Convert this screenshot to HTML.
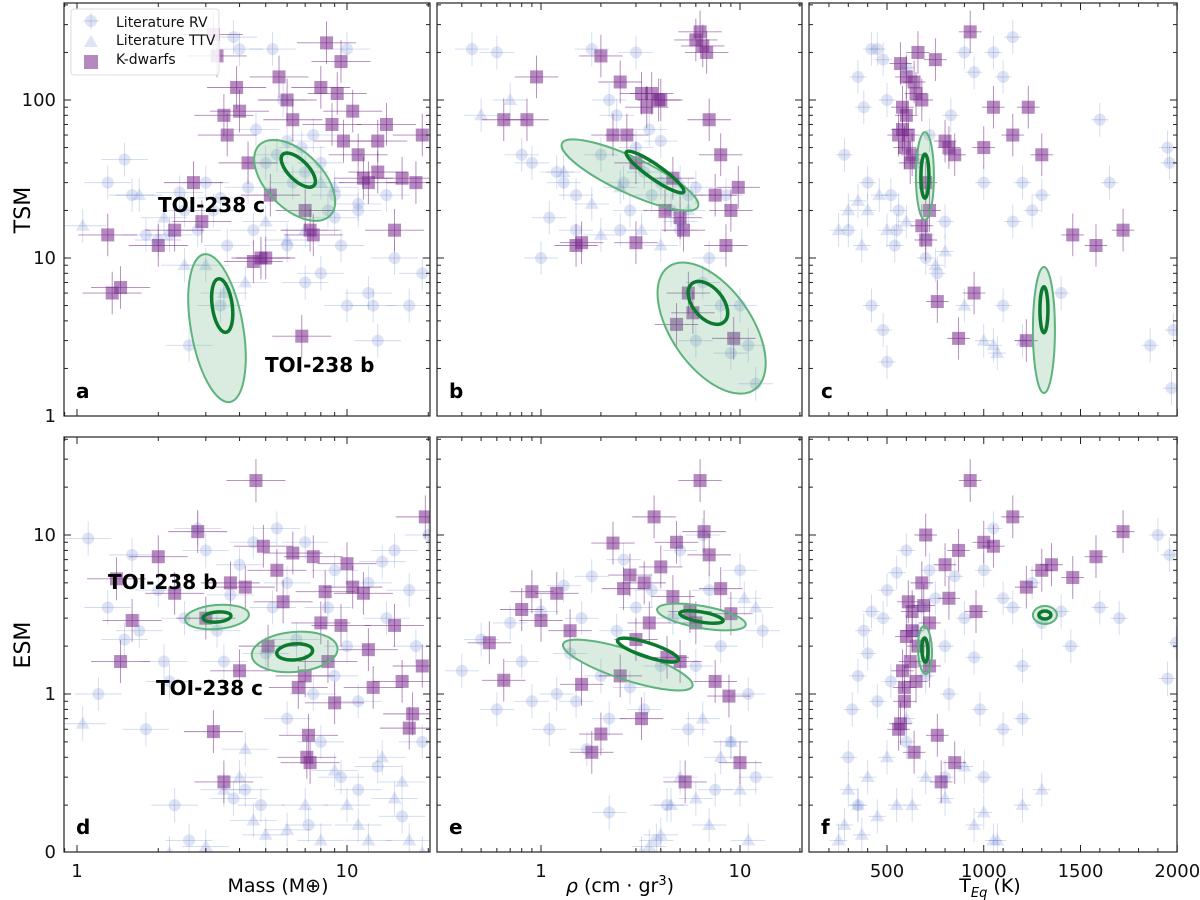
<!DOCTYPE html>
<html><head><meta charset="utf-8"><style>
body{margin:0;background:#fff;font-family:"Liberation Sans","DejaVu Sans",sans-serif}
svg{display:block}
text{font-family:"DejaVu Sans","Liberation Sans",sans-serif}
</style></head><body>
<svg id="fig" width="1200" height="900" viewBox="0 0 1200 900" xmlns="http://www.w3.org/2000/svg"></svg>
<script>
// ---- data (x, y pairs per panel/series) ----
const aRV=[[1.3,30],[1.5,42],[1.6,25],[1.8,14],[2.0,13],[2.2,14],[2.4,26],[2.6,2.8],[2.8,15],[3.0,30],[3.2,20],[3.4,24],[3.6,12],[3.8,250],[4.0,210],[4.3,28],[4.6,65],[5.0,40],[5.3,210],[5.5,45],[5.8,100],[6.0,55],[6.3,30],[6.8,50],[7.0,35],[7.5,60],[8.0,40],[8.5,20],[9,25],[9.5,12],[10,5],[11,20],[12,6],[12.5,5],[13,3],[14,25],[15,10],[17,5],[19,8],[3.4,5],[4.5,15],[6,12],[7,7],[2.5,20],[10,210],[11,22],[9,18],[8,8]];
const aTTV=[[1.05,16],[1.7,25],[2.5,9],[3.0,9],[4.2,7],[4.8,10],[5,17],[6,13],[7,15],[3.5,6],[9,28],[2.1,18],[8,30]];
const aK=[[1.3,14],[1.35,6],[1.45,6.5],[2.0,12],[2.3,15],[2.7,30],[2.9,17],[3.2,260],[3.3,190],[3.5,80],[3.6,60],[3.9,120],[4.0,85],[4.3,40],[4.5,9.5],[4.8,10],[5.0,10],[5.2,25],[5.6,140],[6.0,100],[6.3,75],[6.8,3.2],[7.0,20],[7.3,15],[7.5,14],[8.0,120],[8.4,230],[8.8,70],[9.2,110],[9.5,175],[9.7,55],[10.5,85],[11.0,45],[11.5,32],[12,30],[13,35],[14,70],[15,15],[16,32],[18,30],[19,60],[13,55]];
const bRV=[[0.45,210],[0.6,200],[0.8,45],[0.9,40],[1.0,10],[1.1,18],[1.2,35],[1.3,30],[1.5,25],[1.8,210],[2.0,45],[2.2,100],[2.4,80],[2.6,30],[2.8,20],[3,50],[3.3,35],[3.6,25],[4,30],[4.5,20],[5,15],[5.5,25],[6,28],[6.5,7],[7,10],[8,5],[9,2.5],[10,5],[11,2.8],[12,1.6],[2.5,15],[3.5,65],[4,55],[6,3],[8.5,25],[1.5,15],[3,200],[5,17]];
const bTTV=[[0.5,80],[0.7,100],[1.3,35],[1.8,22],[2.5,28],[3.2,15],[4,12],[5,30],[5.5,20],[2,14]];
const bK=[[0.65,75],[0.85,75],[0.95,140],[1.5,12],[1.6,12.5],[2.0,190],[2.3,60],[2.5,130],[2.7,60],[3.0,40],[3.2,110],[3.4,90],[3.6,110],[3.9,100],[4.2,20],[4.6,32],[5.0,18],[5.2,15],[5.5,6],[5.8,4.5],[6.0,240],[6.3,270],[6.5,220],[7.0,75],[7.5,25],[8.0,45],[8.5,12],[9.0,20],[9.3,3.1],[9.8,28],[6.8,200],[4.8,3.8],[3.0,12.5],[4.0,100]];
const cRV=[[280,45],[300,15],[350,140],[380,90],[400,30],[420,210],[450,210],[480,180],[500,100],[520,25],[540,12],[560,20],[600,160],[650,40],[700,10],[720,60],[760,8],[800,17],[830,80],[900,200],[950,150],[1000,30],[1050,200],[1100,5],[1150,17],[1200,30],[1250,20],[1300,25],[1400,6],[1600,75],[1650,30],[1950,50],[1960,40],[1970,1.5],[1980,3.5],[1860,2.8],[420,5],[480,3.5],[500,2.2],[550,15],[1100,140],[1150,250]];
const cTTV=[[250,15],[300,20],[350,23],[370,12],[400,20],[460,25],[500,15],[600,17],[700,14],[750,9],[800,11],[1000,3],[1050,2.8],[1070,2.5],[1200,3],[900,5]];
const cK=[[560,60],[570,170],[580,90],[590,50],[600,140],[610,60],[630,45],[650,110],[660,200],[680,100],[700,30],[720,20],[750,180],[760,5.3],[800,55],[820,50],[850,45],[870,3.1],[930,270],[950,6],[1000,50],[1050,90],[1150,60],[1220,3],[1230,90],[1300,45],[1460,14],[1580,12],[1720,15],[600,80],[640,130],[580,65],[700,13],[680,16],[620,40]];
const dRV=[[1.1,9.5],[1.2,1.0],[1.3,3.5],[1.5,2.2],[1.7,2.5],[1.8,0.6],[2.0,4.5],[2.2,1.2],[2.3,0.2],[2.5,3],[2.8,11],[3.0,8],[3.3,2.5],[3.5,1.6],[3.8,0.22],[4.0,6.5],[4.2,0.25],[4.5,9],[5.0,1.8],[5.3,3.5],[5.5,11],[6,5],[6.5,2.2],[7,9],[7.5,1],[8,0.5],[8.5,3.5],[9,6],[9.5,0.3],[10,2],[11,0.25],[12,5],[13,0.35],[14,3],[15,8],[16,0.17],[17,4.5],[18,2],[19,0.5],[20,10],[1.6,7.5],[2.6,0.12],[3.7,4.2],[4.8,0.2],[6,0.7],[7.2,0.15],[9,1.3],[11,0.9],[13.5,6.8],[2.1,1.6]];
const dTTV=[[1.05,0.65],[2.2,0.1],[3.5,0.25],[4,0.3],[4.5,0.16],[5,0.13],[6,0.14],[7,0.2],[8,0.12],[9,0.33],[10,0.2],[11,0.15],[12,0.12],[13.5,0.4],[15,0.22],[16,0.28],[17,0.12],[4.2,0.45],[19,0.1],[3,0.11]];
const dK=[[1.4,5.3],[1.45,1.6],[1.6,2.9],[2.0,7.3],[2.3,4.3],[2.8,10.5],[3.2,0.58],[3.0,3],[3.5,0.28],[3.7,5],[4.0,1.4],[4.2,4.7],[4.6,22],[4.9,8.5],[5.1,2],[5.5,6],[5.8,3.8],[6.3,7.7],[6.6,1.1],[7.0,1.3],[7.1,0.4],[7.2,0.55],[7.3,0.37],[7.5,7.3],[8.0,2.8],[8.3,4.4],[8.5,1.6],[9,0.88],[9.5,2.7],[10,6.6],[10.5,4.7],[11.5,4.3],[12,1.9],[12.5,1.1],[15,2.7],[16,1.2],[17,0.61],[17.5,0.75],[19,1.5],[19.5,13]];
const eRV=[[0.4,1.4],[0.5,2.2],[0.6,0.8],[0.7,2.8],[0.8,1.6],[0.9,0.9],[1.0,3.3],[1.1,0.6],[1.2,1.0],[1.3,4.8],[1.4,1.8],[1.5,0.9],[1.6,3],[1.8,5.5],[2.0,1.3],[2.2,0.7],[2.4,2.5],[2.6,7],[2.8,1.1],[3.0,3.5],[3.3,0.8],[3.6,4.5],[4,1.5],[4.3,0.2],[4.6,3],[5,8],[5.5,0.6],[6,1.5],[6.5,10],[7,4.5],[8,2],[9,0.5],[10,6],[11,1.0],[12,0.3],[13,2.5],[3.8,0.12],[2.2,0.18],[1.7,0.45],[7.5,0.25]];
const eTTV=[[3.5,0.11],[4,0.13],[4.5,0.2],[5,0.3],[6,0.22],[7,0.15],[8,0.4],[9,0.5],[10,0.25],[11,0.12],[6.5,0.7],[12,3.5],[10.5,4],[3.2,0.1]];
const eK=[[0.55,2.1],[0.65,1.22],[0.8,3.4],[0.9,4.4],[1.0,2.9],[1.2,4.3],[1.4,2.5],[1.6,1.15],[1.8,0.43],[2.0,0.56],[2.3,8.9],[2.5,1.3],[2.8,5.6],[3.0,2.2],[3.3,5],[3.5,2.8],[3.7,13],[4.0,6.3],[4.3,1.7],[4.6,4.1],[5.0,1.6],[5.3,0.28],[5.6,3.3],[6.0,2.8],[6.3,22],[6.6,10.5],[7.0,7.5],[7.5,1.2],[8.0,4.6],[8.8,0.97],[9,3.2],[10,0.37],[3.2,0.7],[4.8,9],[2.6,4.6]];
const fRV=[[300,0.4],[320,0.8],[350,1.3],[380,2.5],[400,1.8],[420,3.3],[450,0.9],[480,3],[500,4.5],[520,1.2],[550,5.8],[600,8],[650,2.5],[680,3.5],[700,1.3],[720,6],[750,4],[800,2],[820,1.0],[850,5.5],[900,3],[950,1.7],[980,0.8],[1000,6],[1050,11],[1100,4],[1150,3.5],[1200,1.5],[1250,5],[1300,2.8],[1400,3.3],[1450,2],[1600,3.5],[1700,3],[1900,10],[1960,7.5],[1950,1.25],[1995,2.1],[1200,0.7],[800,0.3],[600,0.5],[350,0.2],[1000,0.3],[1100,0.6]];
const fTTV=[[250,0.12],[280,0.15],[300,0.25],[350,0.2],[370,0.13],[400,0.3],[450,0.17],[500,0.4],[550,0.2],[630,0.2],[700,0.3],[800,0.22],[900,0.35],[950,0.15],[1000,0.18],[1050,0.12],[1070,0.12],[1200,0.2],[1300,0.25],[600,0.7]];
const fK=[[560,0.6],[570,0.65],[580,1.4],[590,0.9],[600,2.3],[610,3.8],[620,1.6],[630,3.3],[640,0.43],[650,1.2],[680,5],[690,3.6],[700,10],[720,2.8],[760,0.55],[780,0.28],[800,6.5],[820,4],[850,0.37],[870,8],[930,22],[960,3.3],[1000,9],[1050,8.5],[1150,13],[1220,4.7],[1300,6],[1350,6.5],[1460,5.4],[1580,7.3],[1720,10.5],[590,1.1],[660,2],[720,1.5],[630,2.5]];
// TOI-238 posterior contour centres [x, y]
const toiB=[[3.3,3.6],[7.2,3.6],[1311,3.5],[3.3,3.05],[6.4,3.05],[1316,3.14]];
const toiBin=[[3.45,5.0],[6.9,5.2],[1311,4.7],[3.3,3.05],[6.4,3.05],[1316,3.14]];
const toiC=[[6.4,31],[2.8,33.5],[696,33],[6.4,1.84],[2.73,1.52],[696,1.89]];
const toiCin=[[6.6,36],[3.74,35],[696,33],[6.4,1.84],[3.45,1.89],[696,1.89]];

const NS="http://www.w3.org/2000/svg";
const svg=document.getElementById('fig');
function el(t,a,p){const e=document.createElementNS(NS,t);for(const k in a)e.setAttribute(k,a[k]);(p||svg).appendChild(e);return e;}
const logX=(px0,dec)=>v=>px0+Math.log10(v)*dec;
const mass=logX(77,270), rho=logX(541,199), teq=v=>887+(v-500)*0.1935;
const tsm=v=>416-Math.log10(v)*158, esm=v=>694-Math.log10(v)*159;
const cols=[[64,430],[437,802],[809,1177]], rows=[[3,416],[437,852]];
const xs=[mass,rho,teq], ys=[tsm,esm];
const data=[[aRV,aTTV,aK],[bRV,bTTV,bK],[cRV,cTTV,cK],[dRV,dTTV,dK],[eRV,eTTV,eK],[fRV,fTTV,fK]];
const letters=['a','b','c','d','e','f'];
const shB=[[75,26,80,27,10,82],[75,40,55,25,15,50],[63,11,90,23,4,90],[32,12,-5,14,5,-5],[45,11,10,22,5,10],[12,9,0,6,4,0]];
const shC=[[50,28,45,22,10,45],[75,18,25,35,7,35],[44,9,90,22,4,90],[43,20,-5,18,8,-5],[68,15,18,32,7,18],[24,7,88,12,3,88]];
const RVc='rgba(90,120,200,0.2)', RVs='rgba(90,120,200,0.28)', Kc='rgba(120,40,140,0.55)', Ks='rgba(110,30,130,0.55)';

for(let i=0;i<6;i++){
  const c=i%3,r=Math.floor(i/3);
  const [x0,x1]=cols[c],[y0,y1]=rows[r];
  const X=xs[c],Y=ys[r];
  const g=el('g',{});
  
  
  const cp=el('clipPath',{id:'cp'+i},g);
  el('rect',{x:x0,y:y0,width:x1-x0,height:y1-y0},cp);
  const pg=el('g',{'clip-path':'url(#cp'+i+')'},g);
  const [rv,ttv,kd]=data[i];
  const errX=(v,f)=>c==2?[X(v-f*45),X(v+f*45)]:[X(v/(1+0.22*f)),X(v*(1+0.22*f))];
  const drawErr=(p,f,s)=>{const [xa,xb]=errX(p[0],f);const yy=Y(p[1]),xx=X(p[0]);
    el('line',{x1:xa,x2:xb,y1:yy,y2:yy,stroke:s,'stroke-width':0.9},pg);
    el('line',{x1:xx,x2:xx,y1:Y(p[1]/(1+0.28*f)),y2:Y(p[1]*(1+0.28*f)),stroke:s,'stroke-width':0.9},pg);};
  rv.forEach(p=>{drawErr(p,1,RVs);const m=el('circle',{cx:X(p[0]),cy:Y(p[1]),r:6,fill:RVc},pg);
    
    });
  ttv.forEach(p=>{drawErr(p,1,RVs);const x=X(p[0]),y=Y(p[1]);const m=el('polygon',{points:`${x},${y-7} ${x-7},${y+5} ${x+7},${y+5}`,fill:RVc},pg);
    
    });
  kd.forEach(p=>{drawErr(p,1.3,Ks);const m=el('rect',{x:X(p[0])-6.5,y:Y(p[1])-6.5,width:13,height:13,fill:Kc},pg);
    
    });
  [[toiB[i],toiBin[i],shB[i],'b'],[toiC[i],toiCin[i],shC[i],'c']].forEach(([o,n,s,nm])=>{
    const ox=X(o[0]),oy=Y(o[1]),nx=X(n[0]),ny=Y(n[1]);
    const e1=el('ellipse',{cx:ox,cy:oy,rx:s[0],ry:s[1],transform:`rotate(${s[2]} ${ox} ${oy})`,fill:'rgba(80,170,110,0.22)',stroke:'#5db37c','stroke-width':2},pg);
    
    
    const e2=el('ellipse',{cx:nx,cy:ny,rx:s[3],ry:s[4],transform:`rotate(${s[5]} ${nx} ${ny})`,fill:'none',stroke:'#0b7a2e','stroke-width':3.5},pg);
    
    
  });
  el('rect',{x:x0,y:y0,width:x1-x0,height:y1-y0,fill:'none',stroke:'#222','stroke-width':1.2},g);
  const tick=(x,len,lab)=>{el('line',{x1:x,x2:x,y1:y1,y2:y1-len,stroke:'#222'},g);el('line',{x1:x,x2:x,y1:y0,y2:y0+len,stroke:'#222'},g);
    if(lab&&r==1){const t=el('text',{x:x,y:y1+25,'text-anchor':'middle','font-size':18,fill:'#111'},svg);t.textContent=lab;
      
      }};
  if(c<2){for(let d=-1;d<=1;d++)for(let k=1;k<10;k++){const v=k*Math.pow(10,d);const x=X(v);if(x<x0||x>x1)continue;tick(x,k==1?7:4,k==1?String(v):'');}}
  else{for(let v=100;v<=2000;v+=100){const x=X(v);if(x<x0+1)continue;tick(x,v%500==0?7:4,v%500==0?String(v):'');}}
  const ytick=(y,len,lab)=>{el('line',{x1:x0,x2:x0+len,y1:y,y2:y,stroke:'#222'},g);el('line',{x1:x1,x2:x1-len,y1:y,y2:y,stroke:'#222'},g);
    if(lab&&c==0){const t=el('text',{x:x0-8,y:y+6,'text-anchor':'end','font-size':18,fill:'#111'},svg);t.textContent=lab;
      
      }};
  for(let d=-1;d<=2;d++)for(let k=1;k<10;k++){const v=k*Math.pow(10,d);let y=Y(v);if(y<y0||y>y1+2)continue;y=Math.min(y,y1);
    let lab='';if(k==1){lab=r==0?String(v):(v<1?'0':String(v));}ytick(y,k==1?7:4,lab);}
  const lt=el('text',{x:x0+12,y:y1-18,'font-size':20,'font-weight':'bold',fill:'#000'},g);lt.textContent=letters[i];
  
  
}
function txt(x,y,s,attrs,name){const t=el('text',Object.assign({x:x,y:y,fill:'#000'},attrs));t.textContent=s;
  
  return t;}
const bold={'font-size':20,'font-weight':'bold'};
txt(158,212,'TOI-238 c',bold,'toi-238-c-label-a');
txt(265,372,'TOI-238 b',bold,'toi-238-b-label-a');
txt(108,589,'TOI-238 b',bold,'toi-238-b-label-d');
txt(156,695,'TOI-238 c',bold,'toi-238-c-label-d');
txt(30,210,'TSM',{'font-size':22,'text-anchor':'middle',transform:'rotate(-90 30 210)'},'y-axis-title-tsm');
txt(30,645,'ESM',{'font-size':22,'text-anchor':'middle',transform:'rotate(-90 30 645)'},'y-axis-title-esm');
txt(278,892,'Mass (M⊕)',{'font-size':19,'text-anchor':'middle'},'x-axis-title-mass');
const rt=txt(620,892,'',{'font-size':19,'text-anchor':'middle'},'x-axis-title-density');
rt.innerHTML='<tspan font-style="italic">ρ</tspan> (cm · gr<tspan dy="-7" font-size="13">3</tspan><tspan dy="7">)</tspan>';
const tt=txt(990,892,'',{'font-size':19,'text-anchor':'middle'},'x-axis-title-teq');
tt.innerHTML='T<tspan dy="5" font-size="13" font-style="italic">Eq</tspan><tspan dy="-5"> (K)</tspan>';
const lg=el('g',{});


el('rect',{x:71,y:9,width:148,height:66,rx:3,fill:'rgba(255,255,255,0.85)',stroke:'#ddd'},lg);
el('circle',{cx:91,cy:21,r:6,fill:RVc},lg);el('line',{x1:83,x2:99,y1:21,y2:21,stroke:RVs},lg);el('line',{x1:91,x2:91,y1:13,y2:29,stroke:RVs},lg);
el('polygon',{points:'91,35 84,47 98,47',fill:RVc},lg);
el('rect',{x:84,y:55,width:14,height:14,fill:Kc},lg);
[['Literature RV',27],['Literature TTV',45],['K-dwarfs',64]].forEach(([s,y])=>{const t=el('text',{x:116,y:y,'font-size':14,fill:'#111'},lg);t.textContent=s;
  
  });
</script>
</body></html>
